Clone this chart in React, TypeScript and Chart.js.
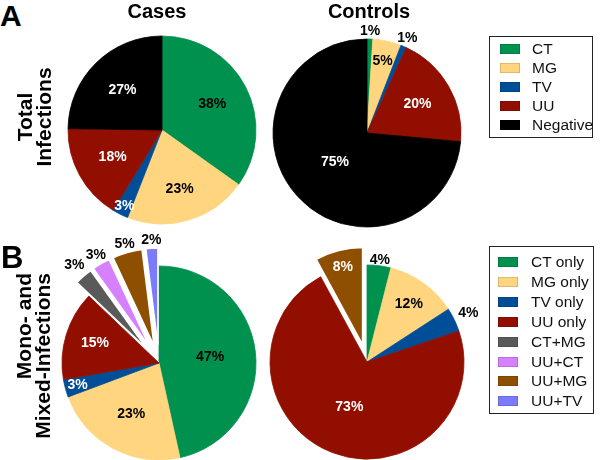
import React, { useEffect, useRef } from "react";
import { Chart, registerables } from "chart.js";

Chart.register(...registerables);

// ---------- data ----------
const totalCategories = ["CT", "MG", "TV", "UU", "Negative"];
const totalColors = ["#00914F", "#FFD67F", "#004E98", "#920F00", "#000000"];
const totalInk = ["#000", "#000", "#fff", "#fff", "#fff"];
const totalCases = [38, 23, 3, 18, 27];
const totalControls = [1, 5, 1, 20, 75];

const mixCategories = ["CT only", "MG only", "TV only", "UU only", "CT+MG", "UU+CT", "UU+MG", "UU+TV"];
const mixColors = ["#00914F", "#FFD67F", "#004E98", "#920F00", "#5A5A5A", "#D780FF", "#8F4F00", "#7B7BFF"];
const mixInk = ["#000", "#000", "#fff", "#fff", "#fff", "#000", "#fff", "#fff"];
const mixExploded = [false, false, false, false, true, true, true, true];
const mixCases = [47, 23, 3, 15, 3, 3, 5, 2];
const mixControls = [4, 12, 4, 73, 0, 0, 8, 0];

const FONT = '"Liberation Sans", Arial, Helvetica, sans-serif';

const pieLabels = {
  id: "pieLabels",
  beforeDatasetDraw(chart: any, args: any, opts: any) {
    const d = opts.explodeDistance || 0;
    const flags = opts.exploded || [];
    args.meta.data.forEach((arc: any, i: number) => {
      if (!flags[i]) return;
      const mid = (arc.startAngle + arc.endAngle) / 2;
      arc.x += Math.cos(mid) * d;
      arc.y += Math.sin(mid) * d;
    });
  },
  afterDatasetDraw(chart: any, args: any, opts: any) {
    const d = opts.explodeDistance || 0;
    const flags = opts.exploded || [];
    args.meta.data.forEach((arc: any, i: number) => {
      if (!flags[i]) return;
      const mid = (arc.startAngle + arc.endAngle) / 2;
      arc.x -= Math.cos(mid) * d;
      arc.y -= Math.sin(mid) * d;
    });
  },
  afterDatasetsDraw(chart: any, _args: any, opts: any) {
    const ctx = chart.ctx;
    const meta = chart.getDatasetMeta(0);
    const values = chart.data.datasets[0].data;
    const ca = chart.chartArea;
    const cx = (ca.left + ca.right) / 2;
    const cy = (ca.top + ca.bottom) / 2;
    const d = opts.explodeDistance || 0;
    const flags = opts.exploded || [];
    ctx.save();
    ctx.font = `bold 14px ${FONT}`;
    ctx.textAlign = "center";
    ctx.textBaseline = "middle";
    meta.data.forEach((arc: any, i: number) => {
      const v = values[i];
      if (!v) return;
      const mid = (arc.startAngle + arc.endAngle) / 2;
      const r = arc.outerRadius;
      const f = opts.radii[i];
      const x = cx + Math.cos(mid) * r * f;
      const y = cy + Math.sin(mid) * r * f;
      const s = flags[i] ? d : 0;
      const sx = cx + Math.cos(mid) * s;
      const sy = cy + Math.sin(mid) * s;
      const inside = Math.hypot(x - sx, y - sy) < r - 2;
      ctx.fillStyle = inside ? opts.ink[i] : "#000";
      ctx.fillText(v + "%", x, y);
    });
    ctx.restore();
  },
};

type PieProps = {
  labels: string[];
  values: number[];
  colors: string[];
  ink: string[];
  exploded?: boolean[];
  radii: number[];
  radius: number;
  cx: number;
  cy: number;
};

const SIZE = 280;

function Pie({ labels, values, colors, ink, exploded, radii, radius, cx, cy }: PieProps) {
  const ref = useRef<HTMLCanvasElement | null>(null);
  useEffect(() => {
    if (!ref.current) return;
    const flags = exploded || labels.map(() => false);
    const chart = new Chart(ref.current, {
      type: "pie",
      data: {
        labels,
        datasets: [
          {
            data: values,
            backgroundColor: colors,
            borderColor: colors.map((c, i) => (flags[i] ? "#ffffff" : c)),
            borderWidth: colors.map((_c, i) => (flags[i] ? 1.5 : 0.8)),
          },
        ],
      },
      options: {
        responsive: false,
        animation: false,
        radius,
        layout: { padding: 0 },
        plugins: {
          legend: { display: false },
          tooltip: { enabled: false },
          pieLabels: { radii, ink, exploded: flags, explodeDistance: 18 },
        } as any,
      },
      plugins: [pieLabels as any],
    });
    return () => chart.destroy();
  }, []);
  return (
    <canvas
      ref={ref}
      width={SIZE}
      height={SIZE}
      style={{ position: "absolute", left: cx - SIZE / 2, top: cy - SIZE / 2, width: SIZE, height: SIZE }}
    />
  );
}

function Legend({ items, colors, left, top, width, height, firstY, step, swX, txtX }: any) {
  return (
    <div
      style={{
        position: "absolute",
        left,
        top,
        width,
        height,
        border: "1.5px solid #222",
        boxSizing: "border-box",
      }}
    >
      {items.map((t: string, i: number) => (
        <React.Fragment key={t}>
          <div
            style={{
              position: "absolute",
              left: swX,
              top: firstY + i * step - 5,
              width: 20,
              height: 10,
              background: colors[i],
              boxShadow: "inset 0 0 0 0.6px rgba(0,0,0,0.25)",
            }}
          />
          <div
            style={{
              position: "absolute",
              left: txtX,
              top: firstY + i * step - 9,
              height: 18,
              lineHeight: "18px",
              fontSize: 15.5,
              whiteSpace: "nowrap",
              color: "#111",
            }}
          >
            {t}
          </div>
        </React.Fragment>
      ))}
    </div>
  );
}

function RowLabel({ lines, cx, cy, len, align }: any) {
  return (
    <div
      style={{
        position: "absolute",
        left: cx - len / 2,
        top: cy - 19,
        width: len,
        height: 38,
        lineHeight: "19px",
        fontSize: 21,
        fontWeight: "bold",
        textAlign: align,
        whiteSpace: "nowrap",
        transform: "rotate(-90deg)",
        transformOrigin: "50% 50%",
      }}
    >
      {lines.map((l: string) => (
        <div key={l}>{l}</div>
      ))}
    </div>
  );
}

export default function App() {
  return (
    <div
      style={{
        position: "fixed",
        left: 0,
        top: 0,
        width: 600,
        height: 460,
        overflow: "hidden",
        background: "#fff",
        fontFamily: FONT,
        color: "#000",
      }}
    >
      <Pie
        labels={totalCategories}
        values={totalCases}
        colors={totalColors}
        ink={totalInk}
        radii={[0.6, 0.66, 0.9, 0.6, 0.6]}
        radius={94}
        cx={162}
        cy={130}
      />
      <Pie
        labels={totalCategories}
        values={totalControls}
        colors={totalColors}
        ink={totalInk}
        radii={[1.08, 0.78, 1.1, 0.62, 0.46]}
        radius={94}
        cx={367}
        cy={133}
      />
      <Pie
        labels={mixCategories}
        values={mixCases}
        colors={mixColors}
        ink={mixInk}
        exploded={mixExploded}
        radii={[0.53, 0.6, 0.87, 0.69, 1.33, 1.29, 1.28, 1.27]}
        radius={97}
        cx={159}
        cy={363}
      />
      <Pie
        labels={mixCategories}
        values={mixControls}
        colors={mixColors}
        ink={mixInk}
        exploded={mixExploded}
        radii={[1.06, 0.74, 1.16, 0.5, 0, 0, 1.01, 0]}
        radius={97}
        cx={367}
        cy={362}
      />

      <div style={{ position: "absolute", left: 0, top: 1, fontSize: 30, lineHeight: "30px", fontWeight: "bold" }}>A</div>
      <div style={{ position: "absolute", left: 1, top: 242, fontSize: 31, lineHeight: "31px", fontWeight: "bold" }}>B</div>

      <div style={{ position: "absolute", left: 157 - 60, top: 0, width: 120, textAlign: "center", fontSize: 20, lineHeight: "22px", fontWeight: "bold" }}>Cases</div>
      <div style={{ position: "absolute", left: 369 - 70, top: 0, width: 140, textAlign: "center", fontSize: 20, lineHeight: "22px", fontWeight: "bold" }}>Controls</div>

      <RowLabel lines={["Total", "Infections"]} cx={34} cy={117} len={180} align="center" />
      <RowLabel lines={["Mono- and", "Mixed-Infections"]} cx={33} cy={273 + 90} len={180} align="right" />

      <Legend
        items={totalCategories}
        colors={totalColors}
        left={489}
        top={36}
        width={104}
        height={102}
        firstY={12}
        step={19}
        swX={10}
        txtX={42}
      />
      <Legend
        items={mixCategories}
        colors={mixColors}
        left={489}
        top={246}
        width={105}
        height={168}
        firstY={15}
        step={19.9}
        swX={8}
        txtX={41}
      />
    </div>
  );
}
